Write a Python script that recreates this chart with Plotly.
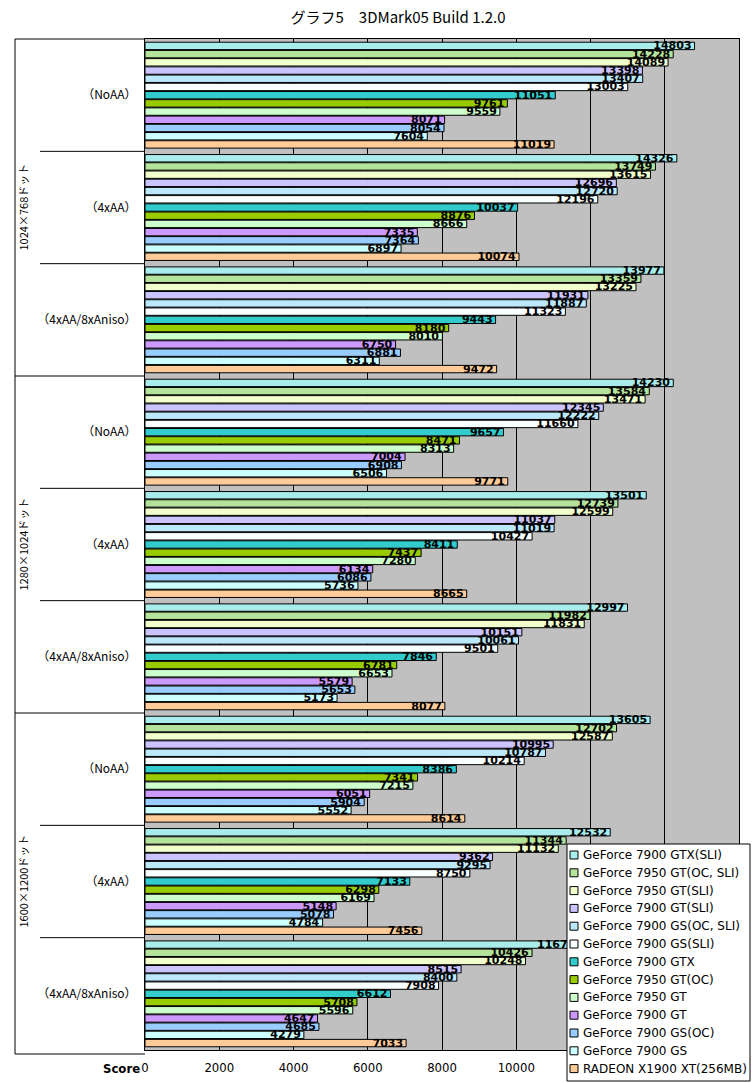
import plotly.graph_objects as go

# ---------------- data ----------------
resolutions = ["1024×768ドット", "1280×1024ドット", "1600×1200ドット"]
aa_modes = ["（NoAA）", "（4xAA）", "（4xAA/8xAniso）"]

series_names = [
    "GeForce 7900 GTX(SLI)",
    "GeForce 7950 GT(OC, SLI)",
    "GeForce 7950 GT(SLI)",
    "GeForce 7900 GT(SLI)",
    "GeForce 7900 GS(OC, SLI)",
    "GeForce 7900 GS(SLI)",
    "GeForce 7900 GTX",
    "GeForce 7950 GT(OC)",
    "GeForce 7950 GT",
    "GeForce 7900 GT",
    "GeForce 7900 GS(OC)",
    "GeForce 7900 GS",
    "RADEON X1900 XT(256MB)",
]

gtx_sli = [14803, 14326, 13977, 14230, 13501, 12997, 13605, 12532, 11671]
gt7950_oc_sli = [14228, 13749, 13359, 13584, 12739, 11982, 12702, 11344, 10426]
gt7950_sli = [14089, 13615, 13225, 13471, 12599, 11831, 12587, 11132, 10248]
gt7900_sli = [13398, 12696, 11931, 12345, 11037, 10151, 10995, 9362, 8515]
gs_oc_sli = [13407, 12720, 11887, 12222, 11019, 10061, 10787, 9295, 8400]
gs_sli = [13003, 12196, 11323, 11660, 10427, 9501, 10214, 8750, 7908]
gtx = [11051, 10037, 9443, 9657, 8411, 7846, 8386, 7133, 6612]
gt7950_oc = [9761, 8876, 8180, 8471, 7437, 6781, 7341, 6298, 5708]
gt7950 = [9559, 8666, 8010, 8313, 7280, 6653, 7215, 6169, 5596]
gt7900 = [8071, 7335, 6750, 7004, 6134, 5579, 6051, 5148, 4647]
gs_oc = [8054, 7364, 6881, 6908, 6086, 5653, 5904, 5078, 4685]
gs = [7604, 6897, 6311, 6506, 5736, 5173, 5552, 4784, 4279]
radeon = [11019, 10074, 9472, 9771, 8665, 8077, 8614, 7456, 7033]

series_values = [gtx_sli, gt7950_oc_sli, gt7950_sli, gt7900_sli, gs_oc_sli, gs_sli,
                 gtx, gt7950_oc, gt7950, gt7900, gs_oc, gs, radeon]

colors = ["#A8ECEC", "#B4E49C", "#F0FFCC", "#CCC4FF", "#BCE8FC", "#FAFFFF",
          "#33CCCC", "#99CC00", "#CCFFCC", "#CC99FF", "#99CCFF", "#CCFFFF", "#FFCC99"]

x_ticks = [0, 2000, 4000, 6000, 8000, 10000, 12000, 14000, 16000]

# category keys (unique) and their displayed labels
cat_keys = [f"{r}|{a}" for r in resolutions for a in aa_modes]
cat_text = [a for r in resolutions for a in aa_modes]

num_font = "DejaVu Sans, sans-serif"
jp_font = "Noto Sans CJK JP, sans-serif"
legend_font = "DejaVu Sans, sans-serif"
narrow_font = "Liberation Sans Narrow, DejaVu Sans Condensed, Arial Narrow, sans-serif"

fig = go.Figure()
for name, vals, col in zip(series_names, series_values, colors):
    fig.add_trace(go.Bar(
        name=name,
        y=cat_keys,
        x=vals,
        orientation="h",
        marker=dict(color=col, line=dict(color="#000000", width=1)),
        text=[str(v) for v in vals],
        textposition="inside",
        insidetextanchor="end",
        constraintext="none",
        textfont=dict(family=num_font, size=11, color="#000000", weight="bold"),
        cliponaxis=False,
        showlegend=False,
    ))

# plot geometry in pixels for paper conversions
W, H = 753, 1083
ml, mr, mt, mb = 145, 14, 39, 33
pw = W - ml - mr
ph = H - mt - mb


def px_x(px):
    return (px - ml) / pw


def px_y(py):
    return (H - mb - py) / ph


shapes = []
# left border and top border of the whole chart frame
shapes.append(dict(type="line", xref="paper", yref="paper",
                   x0=px_x(15), x1=px_x(15), y0=px_y(1054), y1=1,
                   line=dict(color="#000000", width=1)))
shapes.append(dict(type="line", xref="paper", yref="paper",
                   x0=px_x(15), x1=0, y0=1, y1=1,
                   line=dict(color="#000000", width=1)))
shapes.append(dict(type="line", xref="paper", yref="paper",
                   x0=px_x(15), x1=0, y0=px_y(1054), y1=px_y(1054),
                   line=dict(color="#000000", width=1)))
# group separators
n_aa = len(aa_modes)
for i in range(len(cat_keys) - 1):
    outer = (i + 1) % n_aa == 0
    shapes.append(dict(type="line", xref="paper", yref="y",
                       x0=px_x(15) if outer else px_x(40), x1=0,
                       y0=i + 0.5, y1=i + 0.5,
                       line=dict(color="#000000", width=1)))

annotations = []
for ri, r in enumerate(resolutions):
    mid = cat_keys[ri * n_aa + n_aa // 2]
    annotations.append(dict(text=r, xref="paper", yref="y", x=px_x(22), y=mid,
                            textangle=-90, showarrow=False, xanchor="center",
                            yanchor="middle",
                            font=dict(family=jp_font, size=11, color="#000000")))
annotations.append(dict(text="<b>Score</b>", xref="paper", yref="paper",
                        x=px_x(142), y=px_y(1068), xanchor="right", yanchor="middle",
                        showarrow=False,
                        font=dict(family=narrow_font, size=13, color="#000000")))

# ---- legend box (built from series_names / colors) ----
leg_left, leg_right, leg_top, leg_bottom = 567, 750, 844, 1081
leg_first, leg_step = 855, 17.8
shapes.append(dict(type="rect", xref="paper", yref="paper", layer="above",
                   x0=px_x(leg_left), x1=px_x(leg_right),
                   y0=px_y(leg_bottom), y1=px_y(leg_top),
                   fillcolor="#FFFFFF", line=dict(color="#000000", width=1)))
for i, (name, col) in enumerate(zip(series_names, colors)):
    cy = leg_first + i * leg_step
    shapes.append(dict(type="rect", xref="paper", yref="paper", layer="above",
                       x0=px_x(570), x1=px_x(578), y0=px_y(cy + 4), y1=px_y(cy - 4),
                       fillcolor=col, line=dict(color="#000000", width=1)))
    annotations.append(dict(text=name, xref="paper", yref="paper",
                            x=px_x(581), y=px_y(cy), xanchor="left", yanchor="middle",
                            showarrow=False,
                            font=dict(family=legend_font, size=12, color="#000000")))

fig.update_layout(
    width=W, height=H,
    margin=dict(l=ml, r=mr, t=mt, b=mb, autoexpand=False),
    paper_bgcolor="#FFFFFF",
    plot_bgcolor="#C0C0C0",
    barmode="group",
    bargap=0.05,
    bargroupgap=0.1,
    showlegend=False,
    title=dict(text="グラフ5　3DMark05 Build 1.2.0", x=398 / W, xanchor="center",
               y=1 - 18 / H, yanchor="middle",
               font=dict(family=jp_font, size=15, color="#000000")),
    xaxis=dict(range=[0, 16000], tickvals=x_ticks, ticktext=[str(t) for t in x_ticks],
               showgrid=True, gridcolor="#000000", gridwidth=1,
               showline=True, linecolor="#000000", linewidth=1, mirror=True,
               zeroline=False, ticks="outside", ticklen=5, tickcolor="rgba(0,0,0,0)",
               tickfont=dict(family=narrow_font, size=13, color="#000000")),
    yaxis=dict(categoryorder="array", categoryarray=cat_keys, autorange="reversed",
               tickmode="array", tickvals=cat_keys, ticktext=cat_text,
               showgrid=False, showline=True, linecolor="#000000", linewidth=1,
               mirror=True, ticks="outside", ticklen=5, tickcolor="rgba(0,0,0,0)",
               tickfont=dict(family=jp_font, size=12, color="#000000")),
    shapes=shapes,
    annotations=annotations,
)

fig.write_html("out.html")
